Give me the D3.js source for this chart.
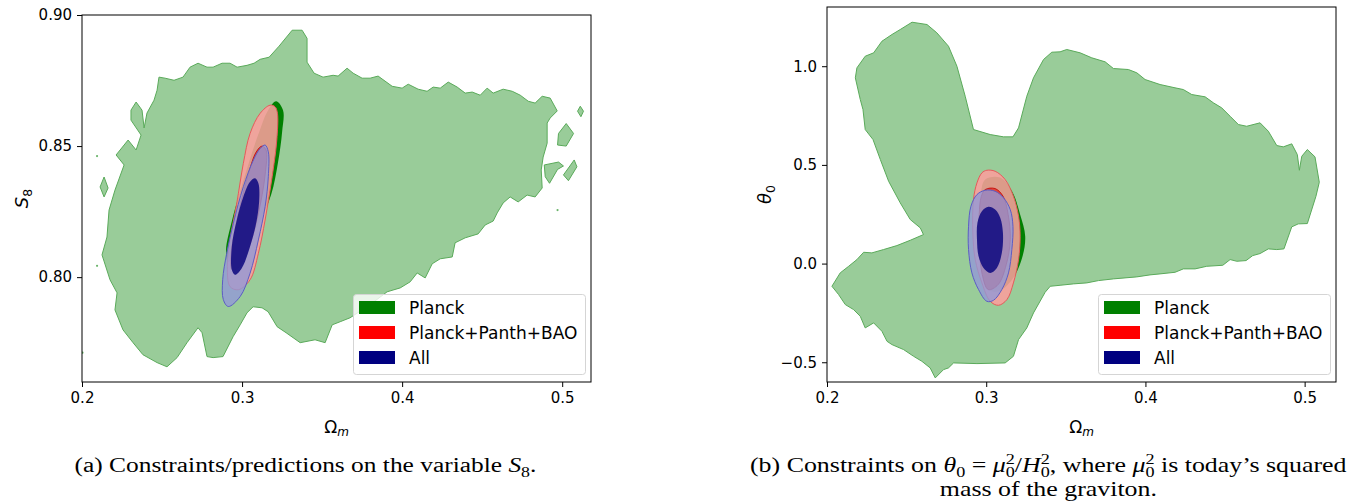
<!DOCTYPE html>
<html><head><meta charset="utf-8">
<script src="https://cdn.jsdelivr.net/npm/d3@7"></script>
<style>body{margin:0;background:#fff}svg{display:block}</style>
</head><body><svg id="c" width="1351" height="503"></svg>
<script>
// ---------------- DATA ----------------
const omegaTicks = [0.2, 0.3, 0.4, 0.5];
const omegaTickLabels = ["0.2", "0.3", "0.4", "0.5"];
const s8Ticks = [0.80, 0.85, 0.90];
const s8TickLabels = ["0.80", "0.85", "0.90"];
const thetaTicks = [-0.5, 0.0, 0.5, 1.0];
const thetaTickLabels = ["\u22120.5", "0.0", "0.5", "1.0"];
const legendLabels = ["Planck", "Planck+Panth+BAO", "All"];

// Panel (a): contours in (Omega_m, S8)
const s8Planck95 = [[0.2288,0.8523],[0.2338,0.8485],[0.2369,0.8542],[0.2306,0.8599],[0.2306,0.8637],[0.2338,0.8668],[0.2375,0.8637],[0.2388,0.8569],[0.2406,0.8626],[0.2450,0.8675],[0.2469,0.8713],[0.2481,0.8763],[0.2519,0.8759],[0.2575,0.8751],[0.2631,0.8763],[0.2675,0.8801],[0.2725,0.8816],[0.2781,0.8801],[0.2819,0.8801],[0.2875,0.8816],[0.2925,0.8816],[0.2969,0.8801],[0.3031,0.8808],[0.3075,0.8816],[0.3113,0.8831],[0.3169,0.8839],[0.3231,0.8881],[0.3313,0.8942],[0.3375,0.8942],[0.3406,0.8911],[0.3406,0.8820],[0.3450,0.8778],[0.3506,0.8763],[0.3569,0.8770],[0.3600,0.8767],[0.3656,0.8797],[0.3694,0.8778],[0.3750,0.8759],[0.3800,0.8759],[0.3850,0.8767],[0.3938,0.8728],[0.4000,0.8721],[0.4038,0.8736],[0.4100,0.8717],[0.4156,0.8709],[0.4194,0.8725],[0.4238,0.8721],[0.4288,0.8744],[0.4344,0.8725],[0.4394,0.8702],[0.4438,0.8706],[0.4488,0.8694],[0.4531,0.8721],[0.4569,0.8702],[0.4631,0.8717],[0.4688,0.8709],[0.4738,0.8694],[0.4788,0.8671],[0.4831,0.8664],[0.4875,0.8690],[0.4925,0.8683],[0.4969,0.8634],[0.4925,0.8607],[0.4906,0.8588],[0.4906,0.8511],[0.4881,0.8458],[0.4869,0.8409],[0.4875,0.8340],[0.4831,0.8306],[0.4781,0.8313],[0.4725,0.8287],[0.4675,0.8306],[0.4631,0.8283],[0.4594,0.8245],[0.4569,0.8214],[0.4519,0.8199],[0.4475,0.8165],[0.4394,0.8150],[0.4331,0.8131],[0.4313,0.8077],[0.4238,0.8070],[0.4188,0.8051],[0.4144,0.7997],[0.4094,0.8016],[0.4050,0.7982],[0.3988,0.7959],[0.3906,0.7944],[0.3800,0.7895],[0.3675,0.7845],[0.3613,0.7830],[0.3563,0.7818],[0.3519,0.7750],[0.3456,0.7761],[0.3363,0.7750],[0.3319,0.7769],[0.3275,0.7788],[0.3219,0.7811],[0.3163,0.7868],[0.3125,0.7883],[0.3069,0.7887],[0.3031,0.7864],[0.2988,0.7818],[0.2944,0.7773],[0.2881,0.7697],[0.2819,0.7693],[0.2781,0.7697],[0.2750,0.7788],[0.2725,0.7807],[0.2656,0.7750],[0.2594,0.7693],[0.2531,0.7658],[0.2469,0.7674],[0.2381,0.7704],[0.2319,0.7750],[0.2256,0.7799],[0.2206,0.7875],[0.2219,0.7940],[0.2175,0.7990],[0.2125,0.8085],[0.2156,0.8153],[0.2169,0.8256],[0.2206,0.8332],[0.2263,0.8428],[0.2213,0.8466]];
const s8PlanckIsland1 = [[0.2113,0.8344],[0.2138,0.8382],[0.2163,0.8340],[0.2138,0.8306]];
const s8PlanckIsland2 = [[0.4977,0.8548],[0.5025,0.8586],[0.5071,0.8548],[0.5025,0.8500],[0.4971,0.8504]];
const s8PlanckIsland3 = [[0.4888,0.8428],[0.4977,0.8439],[0.5008,0.8424],[0.4971,0.8411],[0.4921,0.8358],[0.4894,0.8383]];
const s8PlanckIsland4 = [[0.5008,0.8390],[0.5075,0.8447],[0.5092,0.8421],[0.5039,0.8368]];
const s8PlanckIsland5 = [[0.5096,0.8633],[0.5113,0.8652],[0.5133,0.8633],[0.5117,0.8612]];
const s8PlanckSpecks = [[0.2094,0.8462],[0.2094,0.8043],[0.2003,0.7712],[0.4971,0.8256]];
const s8Planck68 = [[0.3213,0.8671],[0.3256,0.8637],[0.3250,0.8553],[0.3225,0.8439],[0.3181,0.8313],[0.3100,0.8199],[0.2988,0.8104],[0.2913,0.8058],[0.2900,0.8104],[0.2938,0.8218],[0.3019,0.8390],[0.3100,0.8542],[0.3163,0.8637]];
const s8PPB95 = [[0.3175,0.8656],[0.3206,0.8650],[0.3221,0.8625],[0.3217,0.8523],[0.3200,0.8434],[0.3175,0.8332],[0.3144,0.8218],[0.3102,0.8091],[0.3050,0.7990],[0.2977,0.7952],[0.2925,0.7964],[0.2908,0.8040],[0.2925,0.8142],[0.2967,0.8282],[0.3008,0.8434],[0.3050,0.8548],[0.3113,0.8625]];
const s8PPB68 = [[0.3125,0.8500],[0.3150,0.8485],[0.3144,0.8390],[0.3100,0.8237],[0.3038,0.8104],[0.2975,0.8035],[0.2938,0.8028],[0.2931,0.8085],[0.2975,0.8237],[0.3038,0.8390],[0.3088,0.8477]];
const s8All95 = [[0.3144,0.8504],[0.3164,0.8478],[0.3164,0.8383],[0.3144,0.8269],[0.3102,0.8142],[0.3050,0.8015],[0.2988,0.7926],[0.2914,0.7888],[0.2883,0.7914],[0.2879,0.7990],[0.2904,0.8091],[0.2946,0.8206],[0.3008,0.8345],[0.3071,0.8447],[0.3113,0.8491]];
const s8All68 = [[0.3081,0.8377],[0.3102,0.8358],[0.3108,0.8307],[0.3092,0.8218],[0.3050,0.8117],[0.2998,0.8034],[0.2956,0.8009],[0.2936,0.8028],[0.2936,0.8117],[0.2967,0.8218],[0.3008,0.8307],[0.3050,0.8364]];

// Panel (b): contours in (Omega_m, theta0)
const thPlanck95 = [[0.2178,0.9411],[0.2188,0.9918],[0.2240,1.0506],[0.2293,1.0678],[0.2345,1.1266],[0.2408,1.1606],[0.2460,1.1859],[0.2534,1.2229],[0.2628,1.2112],[0.2690,1.1692],[0.2763,1.1013],[0.2816,1.0000],[0.2868,0.8479],[0.2920,0.6791],[0.3025,0.6538],[0.3109,0.6421],[0.3168,0.6421],[0.3203,0.6877],[0.3255,0.8479],[0.3297,0.9411],[0.3360,1.0339],[0.3412,1.0709],[0.3464,1.0729],[0.3506,1.0846],[0.3590,1.0678],[0.3663,1.0425],[0.3747,1.0222],[0.3799,0.9883],[0.3893,0.9832],[0.3946,0.9665],[0.3998,0.9325],[0.4092,0.9072],[0.4186,0.8905],[0.4238,0.8818],[0.4291,0.8565],[0.4375,0.8448],[0.4427,0.8144],[0.4479,0.7891],[0.4532,0.7465],[0.4584,0.7045],[0.4636,0.6958],[0.4720,0.7131],[0.4772,0.6705],[0.4825,0.5980],[0.4866,0.5914],[0.4919,0.6066],[0.4954,0.5524],[0.4967,0.4728],[0.4982,0.5438],[0.5017,0.5778],[0.5065,0.5408],[0.5092,0.4120],[0.5071,0.3411],[0.5017,0.2027],[0.4960,0.2012],[0.4919,0.1860],[0.4870,0.0745],[0.4825,0.0710],[0.4772,0.0745],[0.4720,0.0507],[0.4674,0.0405],[0.4632,0.0152],[0.4574,0.0117],[0.4532,0.0203],[0.4486,-0.0086],[0.4385,-0.0137],[0.4312,-0.0269],[0.4238,-0.0269],[0.4186,-0.0441],[0.4092,-0.0522],[0.4029,-0.0573],[0.3946,-0.0674],[0.3799,-0.0775],[0.3705,-0.0862],[0.3632,-0.0978],[0.3548,-0.1029],[0.3464,-0.1100],[0.3402,-0.1150],[0.3370,-0.1455],[0.3297,-0.2499],[0.3255,-0.3259],[0.3203,-0.3852],[0.3171,-0.4698],[0.3119,-0.5033],[0.2942,-0.5068],[0.2795,-0.5033],[0.2763,-0.5286],[0.2732,-0.5372],[0.2680,-0.5793],[0.2648,-0.5286],[0.2596,-0.4951],[0.2544,-0.4698],[0.2481,-0.4358],[0.2408,-0.4105],[0.2377,-0.3938],[0.2345,-0.3431],[0.2293,-0.3005],[0.2240,-0.3259],[0.2209,-0.2671],[0.2167,-0.2331],[0.2115,-0.2078],[0.2073,-0.1571],[0.2031,-0.1150],[0.2083,-0.0471],[0.2136,-0.0137],[0.2188,0.0203],[0.2230,0.0573],[0.2282,0.0542],[0.2355,0.0710],[0.2439,0.0912],[0.2523,0.1181],[0.2606,0.1470],[0.2586,0.1809],[0.2523,0.2230],[0.2460,0.3076],[0.2387,0.4171],[0.2335,0.5271],[0.2289,0.6284],[0.2240,0.6791],[0.2226,0.7805],[0.2209,0.8312]];
const thPlanck68 = [[0.2994,0.4257],[0.3088,0.4358],[0.3163,0.3649],[0.3213,0.2483],[0.3245,0.1368],[0.3226,0.0304],[0.3163,-0.0811],[0.3075,-0.1419],[0.3013,-0.1318],[0.2975,-0.0304],[0.2950,0.1470],[0.2962,0.3244]];
const thPPB95 = [[0.3004,0.4728],[0.3056,0.4678],[0.3119,0.4257],[0.3171,0.3411],[0.3203,0.2397],[0.3213,0.1384],[0.3203,0.0203],[0.3171,-0.0978],[0.3130,-0.1824],[0.3077,-0.2113],[0.3025,-0.1911],[0.2973,-0.0978],[0.2931,0.0203],[0.2916,0.1556],[0.2920,0.3244],[0.2942,0.4090],[0.2973,0.4597]];
const thPPB68 = [[0.2994,0.3750],[0.3056,0.3801],[0.3107,0.3396],[0.3138,0.2483],[0.3151,0.1216],[0.3126,-0.0051],[0.3075,-0.1064],[0.3013,-0.1318],[0.2975,-0.0557],[0.2956,0.0963],[0.2956,0.2483],[0.2969,0.3396]];
const thAll95 = [[0.2994,0.3715],[0.3056,0.3664],[0.3109,0.3330],[0.3151,0.2737],[0.3168,0.1890],[0.3161,0.0710],[0.3140,-0.0471],[0.3098,-0.1318],[0.3046,-0.1860],[0.3004,-0.1911],[0.2952,-0.1318],[0.2910,-0.0471],[0.2889,0.0710],[0.2889,0.1890],[0.2904,0.2904],[0.2942,0.3497]];
const thAll68 = [[0.3014,0.2874],[0.3056,0.2737],[0.3088,0.2316],[0.3105,0.1556],[0.3098,0.0542],[0.3067,-0.0218],[0.3025,-0.0471],[0.2983,-0.0218],[0.2952,0.0370],[0.2942,0.1216],[0.2945,0.2063],[0.2973,0.2651]];

// ---------------- STYLES ----------------
const legendColors = ["#008000", "#ff0000", "#000080"];
const sty = {
  g95: {fill: "#008000", fo: 0.4, stroke: "#5aaa5a", sw: 1},
  g68: {fill: "#008000", fo: 1, stroke: "none", sw: 0},
  r95: {fill: "rgb(251,158,156)", fo: 0.88, stroke: "#e65a5a", sw: 1},
  r68: {fill: "rgb(225,60,50)", fo: 0.9, stroke: "#c00000", sw: 0.8},
  b95: {fill: "rgb(146,152,215)", fo: 0.8, stroke: "#5c5cc4", sw: 1},
  b68: {fill: "rgb(20,14,130)", fo: 0.9, stroke: "none", sw: 0}
};

const svg = d3.select("#c");
const FONT = "'DejaVu Sans', sans-serif";

function panel(cfg) {
  const x = d3.scaleLinear().domain(cfg.xd).range([cfg.l, cfg.r]);
  const y = d3.scaleLinear().domain(cfg.yd).range([cfg.b, cfg.t]);
  const id = "clip" + cfg.name;
  svg.append("clipPath").attr("id", id).append("rect")
    .attr("x", cfg.l).attr("y", cfg.t).attr("width", cfg.r - cfg.l).attr("height", cfg.b - cfg.t);
  const g = svg.append("g").attr("clip-path", `url(#${id})`);
  const lineJ = d3.line().x(d => x(d[0])).y(d => y(d[1])).curve(d3.curveLinearClosed);
  const lineS = d3.line().x(d => x(d[0])).y(d => y(d[1])).curve(d3.curveCatmullRomClosed.alpha(0.5));
  cfg.layers.forEach(L => {
    const s = sty[L.style];
    g.append("path").attr("d", (L.smooth ? lineS : lineJ)(L.data))
      .attr("fill", s.fill).attr("fill-opacity", s.fo)
      .attr("stroke", s.stroke).attr("stroke-width", s.sw).attr("stroke-linejoin", "round");
  });
  (cfg.specks || []).forEach(p => {
    g.append("circle").attr("cx", x(p[0])).attr("cy", y(p[1])).attr("r", 1.1)
      .attr("fill", "#6ab46a");
  });
  // axes
  const ax = svg.append("g").attr("transform", `translate(0,${cfg.b})`)
    .call(d3.axisBottom(x).tickValues(cfg.xt).tickFormat((d, i) => cfg.xtl[i]).tickSize(5).tickPadding(5).tickSizeOuter(0));
  const ay = svg.append("g").attr("transform", `translate(${cfg.l},0)`)
    .call(d3.axisLeft(y).tickValues(cfg.yt).tickFormat((d, i) => cfg.ytl[i]).tickSize(5).tickPadding(5).tickSizeOuter(0));
  [ax, ay].forEach(a => {
    a.select(".domain").remove();
    a.selectAll("text").attr("font-family", FONT).attr("font-size", 15).attr("fill", "#000");
    a.selectAll("line").attr("stroke", "#000").attr("stroke-width", 1);
  });
  svg.append("rect").attr("x", cfg.l).attr("y", cfg.t).attr("width", cfg.r - cfg.l).attr("height", cfg.b - cfg.t)
    .attr("fill", "none").attr("stroke", "#000").attr("stroke-width", 1);

  // x label
  const xl = svg.append("text").attr("x", (cfg.l + cfg.r) / 2).attr("y", 433)
    .attr("text-anchor", "middle").attr("font-family", FONT).attr("font-size", 17);
  xl.append("tspan").text("\u03A9");
  xl.append("tspan").attr("font-style", "italic").attr("font-size", 12).attr("dy", 3).text("m");
  // y label
  const yl = svg.append("text").attr("transform", `translate(${cfg.ylx},${(cfg.t + cfg.b) / 2}) rotate(-90)`)
    .attr("text-anchor", "middle").attr("font-family", FONT).attr("font-size", 18);
  yl.append("tspan").attr("font-style", "italic").text(cfg.ylab);
  yl.append("tspan").attr("font-size", 12.5).attr("dy", 3.5).text(cfg.ysub);

  // legend
  const lw = 232, lh = 80;
  const lx = cfg.r - 6 - lw, ly = cfg.b - 8 - lh;
  const lg = svg.append("g");
  lg.append("rect").attr("x", lx + 0.5).attr("y", ly + 0.5).attr("width", lw).attr("height", lh).attr("rx", 3)
    .attr("fill", "#fff").attr("fill-opacity", 0.8).attr("stroke", "#d5d5d5").attr("stroke-width", 1);
  legendLabels.forEach((t, i) => {
    const ry = ly + 7 + i * 25;
    lg.append("rect").attr("x", lx + 6).attr("y", ry).attr("width", 36).attr("height", 13).attr("fill", legendColors[i]);
    lg.append("text").attr("x", lx + 56).attr("y", ry + 12.5).attr("font-family", FONT).attr("font-size", 17)
      .attr("fill", "#000").text(t);
  });
}

panel({name: "a", l: 82, r: 591, t: 15, b: 382, xd: [0.2, 0.518], yd: [0.76, 0.90],
  xt: omegaTicks, xtl: omegaTickLabels, yt: s8Ticks, ytl: s8TickLabels, ylx: 28, ylab: "S", ysub: "8",
  layers: [
    {data: s8Planck95, style: "g95"}, {data: s8PlanckIsland1, style: "g95"}, {data: s8PlanckIsland2, style: "g95"},
    {data: s8PlanckIsland3, style: "g95"}, {data: s8PlanckIsland4, style: "g95"}, {data: s8PlanckIsland5, style: "g95"},
    {data: s8Planck68, style: "g68", smooth: true},
    {data: s8PPB95, style: "r95", smooth: true}, {data: s8PPB68, style: "r68", smooth: true},
    {data: s8All95, style: "b95", smooth: true}, {data: s8All68, style: "b68", smooth: true}],
  specks: s8PlanckSpecks});

panel({name: "b", l: 827, r: 1336, t: 7, b: 382, xd: [0.2, 0.5197], yd: [-0.6, 1.3],
  xt: omegaTicks, xtl: omegaTickLabels, yt: thetaTicks, ytl: thetaTickLabels, ylx: 771, ylab: "\u03B8", ysub: "0",
  layers: [
    {data: thPlanck95, style: "g95"}, {data: thPlanck68, style: "g68", smooth: true},
    {data: thPPB95, style: "r95", smooth: true}, {data: thPPB68, style: "r68", smooth: true},
    {data: thAll95, style: "b95", smooth: true}, {data: thAll68, style: "b68", smooth: true}]});

// ---------------- CAPTIONS ----------------
const SERIF = "'Liberation Serif', 'DejaVu Serif', serif";
// segments: t = text, it = italic, pos = "sub" | "sup" | "subback" (sub stacked under previous sup)
function caption(cx, cy, targetW, sxFixed, segs, fs) {
  const g = svg.append("g").attr("transform", `translate(${cx},${cy})`);
  const t = g.append("text").attr("x", 0).attr("y", 0).attr("text-anchor", "start")
    .attr("font-family", SERIF).attr("font-size", fs).attr("fill", "#000");
  let cur = 0;
  segs.forEach(s => {
    const target = s.pos === "sup" ? -0.42 * fs : (s.pos ? 0.25 * fs : 0);
    const sp = t.append("tspan").text(s.t).attr("dy", target - cur);
    cur = target;
    if (s.it) sp.attr("font-style", "italic");
    if (s.pos) sp.attr("font-size", 0.7 * fs);
    if (s.pos === "subback") sp.attr("dx", -0.7 * fs * 0.5);
  });
  const w = t.node().getBBox().width;
  const sx = targetW ? targetW / w : sxFixed;
  t.attr("transform", `scale(${sx},1) translate(${-w / 2},0)`);
  return sx;
}
const CAP_FS = 20;
const sxB = caption(1048.5, 472, 597, null, [
  {t: "(b) Constraints on "}, {t: "\u03B8", it: 1}, {t: "0", pos: "sub"}, {t: " = "},
  {t: "\u03BC", it: 1}, {t: "2", pos: "sup"}, {t: "0", pos: "subback"}, {t: "/"},
  {t: "H", it: 1}, {t: "2", pos: "sup"}, {t: "0", pos: "subback"}, {t: ", where "},
  {t: "\u03BC", it: 1}, {t: "2", pos: "sup"}, {t: "0", pos: "subback"}, {t: " is today\u2019s squared"}], CAP_FS);
caption(1048.5, 496, null, sxB, [{t: "mass of the graviton."}], CAP_FS);
caption(305.5, 472, 462, null, [
  {t: "(a) Constraints/predictions on the variable "}, {t: "S", it: 1}, {t: "8", pos: "sub"}, {t: "."}], CAP_FS);
</script></body></html>
